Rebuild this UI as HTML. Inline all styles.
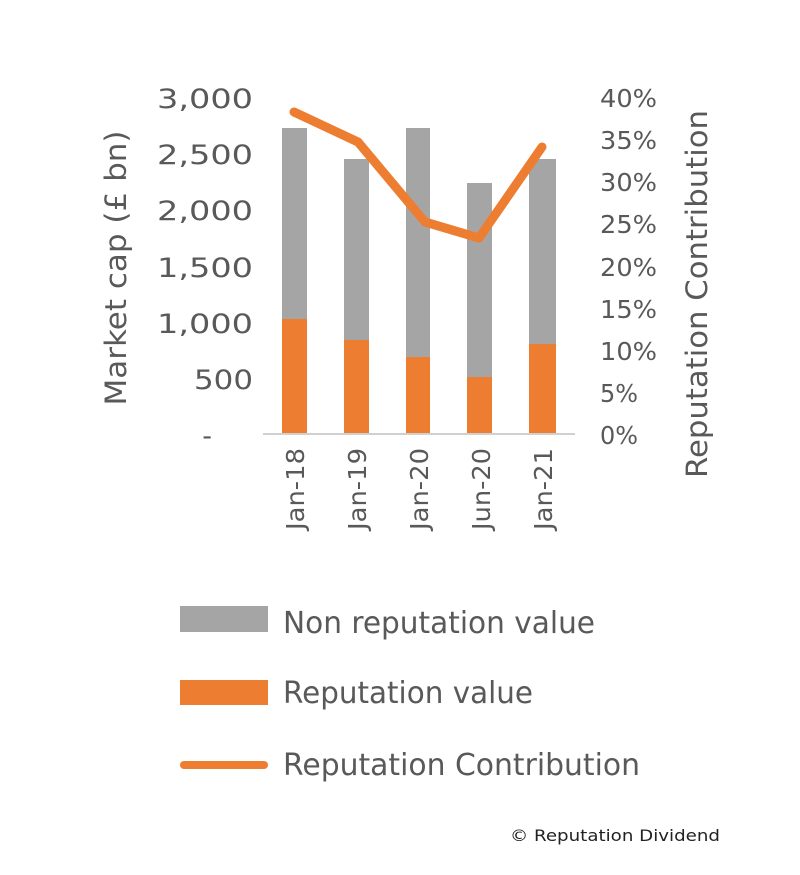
<!DOCTYPE html>
<html><head><meta charset="utf-8"><style>
html,body{margin:0;padding:0;background:#fff;}
svg text{font-family:"DejaVu Sans","Liberation Sans",sans-serif;fill:#595959;}
</style></head><body>
<svg width="800" height="870" xmlns="http://www.w3.org/2000/svg">
<rect width="800" height="870" fill="#fff"/>
<g font-size="27" text-anchor="end">
<text x="253" y="108" textLength="96" lengthAdjust="spacingAndGlyphs">3,000</text>
<text x="253" y="164" textLength="96" lengthAdjust="spacingAndGlyphs">2,500</text>
<text x="253" y="220" textLength="96" lengthAdjust="spacingAndGlyphs">2,000</text>
<text x="253" y="277" textLength="96" lengthAdjust="spacingAndGlyphs">1,500</text>
<text x="253" y="333" textLength="96" lengthAdjust="spacingAndGlyphs">1,000</text>
<text x="253" y="389" textLength="59" lengthAdjust="spacingAndGlyphs">500</text>
<text x="212" y="445">-</text>
</g>
<g font-size="25" text-anchor="start">
<text x="600" y="107" textLength="57" lengthAdjust="spacingAndGlyphs">40%</text>
<text x="600" y="149" textLength="57" lengthAdjust="spacingAndGlyphs">35%</text>
<text x="600" y="191" textLength="57" lengthAdjust="spacingAndGlyphs">30%</text>
<text x="600" y="233" textLength="57" lengthAdjust="spacingAndGlyphs">25%</text>
<text x="600" y="276" textLength="57" lengthAdjust="spacingAndGlyphs">20%</text>
<text x="600" y="318" textLength="57" lengthAdjust="spacingAndGlyphs">15%</text>
<text x="600" y="360" textLength="57" lengthAdjust="spacingAndGlyphs">10%</text>
<text x="600" y="402" textLength="38" lengthAdjust="spacingAndGlyphs">5%</text>
<text x="600" y="444" textLength="38" lengthAdjust="spacingAndGlyphs">0%</text>
</g>
<text font-size="29" text-anchor="middle" textLength="275" lengthAdjust="spacingAndGlyphs" transform="translate(126,268) rotate(-90)">Market cap (£ bn)</text>
<text font-size="29" text-anchor="middle" textLength="368" lengthAdjust="spacingAndGlyphs" transform="translate(707,294) rotate(-90)">Reputation Contribution</text>
<g fill="#a5a5a5">
<rect x="282" y="128" width="25" height="305"/>
<rect x="344" y="159" width="25" height="274"/>
<rect x="406" y="128" width="24" height="305"/>
<rect x="467" y="183" width="25" height="250"/>
<rect x="529" y="159" width="27" height="274"/>
</g>
<g fill="#ed7d31">
<rect x="282" y="319" width="25" height="114"/>
<rect x="344" y="340" width="25" height="93"/>
<rect x="406" y="357" width="24" height="76"/>
<rect x="467" y="377" width="25" height="56"/>
<rect x="529" y="344" width="27" height="89"/>
</g>
<line x1="263" y1="434" x2="575" y2="434" stroke="#d0d0d0" stroke-width="2"/>
<polyline points="294,112 358,142 425,222 479,238 542,147" fill="none" stroke="#ed7d31" stroke-width="9" stroke-linejoin="round" stroke-linecap="round"/>
<g font-size="25" text-anchor="end">
<text transform="translate(304,448) rotate(-90)" textLength="82" lengthAdjust="spacingAndGlyphs">Jan-18</text>
<text transform="translate(366,448) rotate(-90)" textLength="82" lengthAdjust="spacingAndGlyphs">Jan-19</text>
<text transform="translate(428,448) rotate(-90)" textLength="82" lengthAdjust="spacingAndGlyphs">Jan-20</text>
<text transform="translate(490,448) rotate(-90)" textLength="82" lengthAdjust="spacingAndGlyphs">Jun-20</text>
<text transform="translate(552,448) rotate(-90)" textLength="82" lengthAdjust="spacingAndGlyphs">Jan-21</text>
</g>
<rect x="180" y="606" width="88" height="26" fill="#a5a5a5"/>
<rect x="180" y="680" width="88" height="25" fill="#ed7d31"/>
<line x1="184" y1="765" x2="264" y2="765" stroke="#ed7d31" stroke-width="8" stroke-linecap="round"/>
<g font-size="30">
<text x="283" y="633" textLength="312" lengthAdjust="spacingAndGlyphs">Non reputation value</text>
<text x="283" y="703" textLength="250" lengthAdjust="spacingAndGlyphs">Reputation value</text>
<text x="283" y="775" textLength="357" lengthAdjust="spacingAndGlyphs">Reputation Contribution</text>
</g>
<text x="510" y="841" font-size="16" textLength="210" lengthAdjust="spacingAndGlyphs" style="fill:#222">© Reputation Dividend</text>
</svg>
</body></html>
